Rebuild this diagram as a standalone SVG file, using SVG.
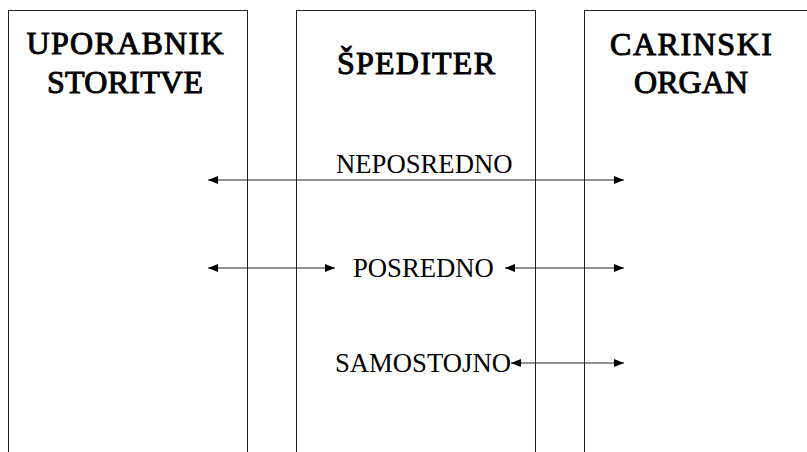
<svg xmlns="http://www.w3.org/2000/svg" width="807" height="452" viewBox="0 0 807 452">
  <style>
    .lane { fill: #ffffff; stroke: #222222; stroke-width: 1; }
    /* heavy serif headings: regular face thickened with a thin outline */
    .head { font-family: "Liberation Serif", "Times New Roman", serif; font-size: 32px; fill: #000000; stroke: #000000; stroke-width: 1; stroke-linejoin: round; text-anchor: middle; }
    .lbl { font-family: "Liberation Serif", "Times New Roman", serif; font-size: 26.7px; fill: #000000; }
    .flow { stroke: #222222; stroke-width: 1.2; fill: none; marker-start: url(#tip); marker-end: url(#tip); }
  </style>
  <defs>
    <marker id="tip" viewBox="0 0 10 8" refX="10" refY="4" markerWidth="10" markerHeight="8" markerUnits="userSpaceOnUse" orient="auto-start-reverse">
      <path d="M0,0 L10,4 L0,8 Z" fill="#000000"/>
    </marker>
  </defs>
  <rect width="807" height="452" fill="#ffffff"/>

  <g id="uporabnik">
    <rect class="lane" x="8.5" y="10.5" width="239" height="470"/>
    <text class="head" x="125" y="54" textLength="197" lengthAdjust="spacing">UPORABNIK</text>
    <text class="head" x="125" y="93" textLength="156" lengthAdjust="spacing">STORITVE</text>
  </g>

  <g id="spediter">
    <rect class="lane" x="296.5" y="10.5" width="239" height="470"/>
    <text class="head" x="416" y="74" textLength="158" lengthAdjust="spacing">ŠPEDITER</text>
  </g>

  <g id="carinski">
    <rect class="lane" x="584.5" y="10.5" width="260" height="470"/>
    <text class="head" x="691" y="55" textLength="162" lengthAdjust="spacing">CARINSKI</text>
    <text class="head" x="691" y="93" textLength="114" lengthAdjust="spacing">ORGAN</text>
  </g>

  <g id="connectors">
    <line class="flow" x1="208" y1="180" x2="624" y2="180"/>
    <line class="flow" x1="208" y1="268" x2="335" y2="268"/>
    <line class="flow" x1="505" y1="268" x2="624" y2="268"/>
    <line class="flow" x1="511" y1="363" x2="624" y2="363"/>
  </g>

  <g id="labels">
    <text class="lbl" x="336" y="173">NEPOSREDNO</text>
    <text class="lbl" x="353" y="277">POSREDNO</text>
    <text class="lbl" x="335" y="372">SAMOSTOJNO</text>
  </g>
</svg>
